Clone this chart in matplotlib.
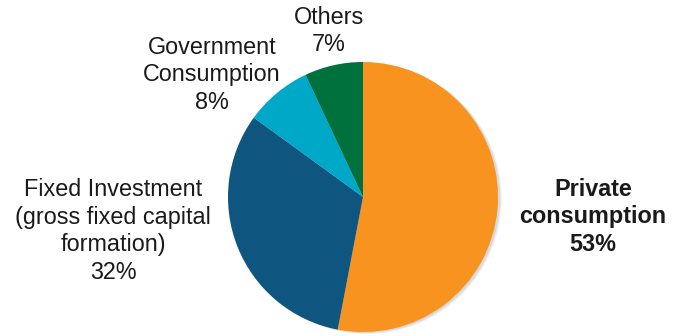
import matplotlib
matplotlib.use("Agg")
import matplotlib.pyplot as plt
from matplotlib.patches import Circle

# GDP expenditure shares, clockwise from 12 o'clock
labels = ["Private\nconsumption", "Fixed Investment\n(gross fixed capital\nformation)",
          "Government\nConsumption", "Others"]
shares = [53, 32, 8, 7]
colors = ["#F7931E", "#0E5580", "#00A8C8", "#00703C"]

W, H = 675, 336
fig = plt.figure(figsize=(W / 100, H / 100), dpi=100)
plt.rcParams['font.family'] = ['Liberation Sans', 'DejaVu Sans']

# pie centre and radius in pixels (from top-left)
cx, cy, r = 363, 197, 135
ax = fig.add_axes([(cx - r * 1.05) / W, (H - cy - r * 1.05) / H, 2.1 * r / W, 2.1 * r / H])

# soft shadow on the right edge
for off, a in [(4, 0.06), (3, 0.08), (2, 0.10)]:
    ax.add_patch(Circle((off / r, -off / (2 * r)), 1.0, color="#555555", alpha=a, lw=0, zorder=0))

ax.pie(shares, colors=colors, startangle=90, counterclock=False, radius=1.0,
       wedgeprops=dict(linewidth=0))
ax.set_xlim(-1.05, 1.05)
ax.set_ylim(-1.05, 1.05)
ax.set_aspect("equal")
ax.axis("off")

# label centres in pixels
label_pos = [(593, 217), (113, 231), (212, 75), (329, 31)]
fs = 16.8
for i, (lab, val, (x, y)) in enumerate(zip(labels, shares, label_pos)):
    fig.text(x / W, 1 - y / H, f"{lab}\n{val}%", ha="center", va="center",
             fontsize=fs, linespacing=1.25, color="#1a1a1a",
             fontweight="bold" if i == 0 else "normal")

fig.savefig("out.png", dpi=100, facecolor="white")
